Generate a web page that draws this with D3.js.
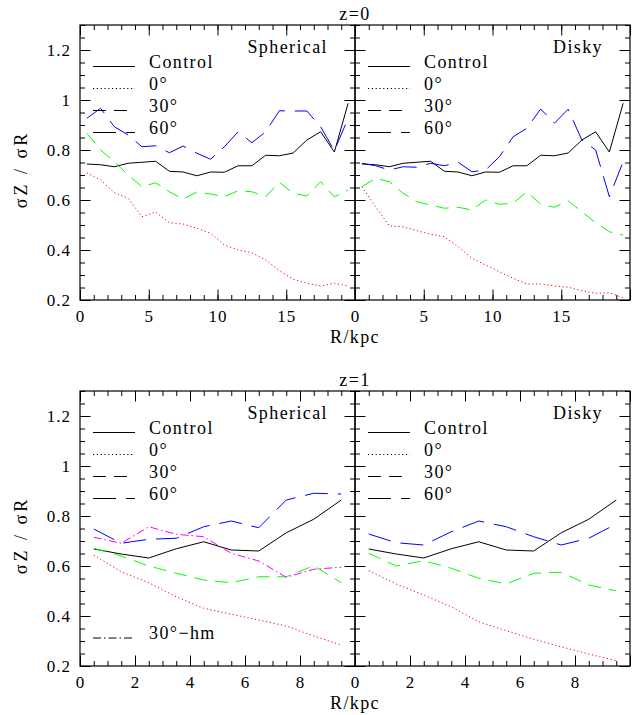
<!DOCTYPE html>
<html>
<head>
<meta charset="utf-8">
<script src="https://cdn.jsdelivr.net/npm/d3@7"></script>
<style>
  html, body { margin: 0; padding: 0; background: #fff; }
  svg { display: block; }
</style>
</head>
<body>
<svg id="chart" width="632" height="715"></svg>
<script>
// Radial bin centres (kpc)
const radiusZ0 = [0.5, 1.5, 2.5, 3.5, 4.5, 5.5, 6.5, 7.5, 8.5, 9.5,
                  10.5, 11.5, 12.5, 13.5, 14.5, 15.5, 16.5, 17.5, 18.5, 19.5];
const radiusZ1 = [0.5, 1.5, 2.5, 3.5, 4.5, 5.5, 6.5, 7.5, 8.5, 9.5];

// sigma_z / sigma_R at z = 0
const z0Control       = [0.744, 0.741, 0.733, 0.747, 0.751, 0.755, 0.715, 0.712, 0.697, 0.712,
                         0.711, 0.737, 0.737, 0.779, 0.777, 0.788, 0.840, 0.873, 0.792, 0.987];
const z0SphericalDeg0  = [0.709, 0.680, 0.629, 0.607, 0.533, 0.552, 0.509, 0.504, 0.487, 0.467,
                         0.420, 0.400, 0.389, 0.360, 0.317, 0.283, 0.267, 0.256, 0.267, 0.256];
const z0SphericalDeg30 = [0.867, 0.800, 0.753, 0.700, 0.653, 0.669, 0.633, 0.603, 0.632, 0.624,
                         0.613, 0.637, 0.633, 0.613, 0.671, 0.627, 0.616, 0.673, 0.613, 0.640];
const z0SphericalDeg60 = [0.927, 0.967, 0.893, 0.860, 0.813, 0.817, 0.789, 0.816, 0.787, 0.763,
                         0.813, 0.873, 0.829, 0.873, 0.957, 0.956, 0.956, 0.893, 0.797, 0.927];
const z0DiskyDeg0      = [0.653, 0.573, 0.496, 0.493, 0.477, 0.463, 0.453, 0.413, 0.367, 0.340,
                         0.313, 0.287, 0.264, 0.264, 0.256, 0.251, 0.237, 0.227, 0.229, 0.209];
const z0DiskyDeg30     = [0.653, 0.687, 0.673, 0.627, 0.593, 0.580, 0.567, 0.571, 0.560, 0.600,
                         0.583, 0.587, 0.633, 0.584, 0.571, 0.597, 0.553, 0.509, 0.473, 0.460];
const z0DiskyDeg60     = [0.747, 0.737, 0.720, 0.733, 0.731, 0.747, 0.737, 0.751, 0.713, 0.720,
                         0.773, 0.853, 0.887, 0.964, 0.907, 0.963, 0.840, 0.800, 0.613, 0.753];

// sigma_z / sigma_R at z = 1
const z1Control          = [0.668, 0.648, 0.632, 0.669, 0.697, 0.664, 0.660, 0.733, 0.787, 0.864];
const z1SphericalDeg0    = [0.644, 0.577, 0.533, 0.477, 0.431, 0.407, 0.384, 0.360, 0.320, 0.284];
const z1SphericalDeg30   = [0.671, 0.640, 0.600, 0.571, 0.544, 0.533, 0.557, 0.557, 0.601, 0.533];
const z1SphericalDeg60   = [0.748, 0.691, 0.707, 0.711, 0.757, 0.780, 0.753, 0.864, 0.891, 0.888];
const z1SphericalDeg30hm = [0.715, 0.691, 0.757, 0.727, 0.717, 0.651, 0.620, 0.555, 0.587, 0.595];
const z1DiskyDeg0        = [0.581, 0.528, 0.484, 0.437, 0.377, 0.341, 0.307, 0.277, 0.248, 0.221];
const z1DiskyDeg30       = [0.651, 0.600, 0.621, 0.591, 0.551, 0.528, 0.571, 0.575, 0.524, 0.501];
const z1DiskyDeg60       = [0.728, 0.693, 0.684, 0.737, 0.780, 0.757, 0.717, 0.684, 0.711, 0.768];

// Tick labels
const yTickLabels = [0.2, 0.4, 0.6, 0.8, 1, 1.2];
const xTickLabelsZ0 = [0, 5, 10, 15];
const xTickLabelsZ1 = [0, 2, 4, 6, 8];
const legendLabels = ["Control", "0°", "30°", "60°"];
const hmLabel = "30°−hm";

// Line styles per run
const styles = {
  control: { color: "#000000", dash: null },
  deg0:    { color: "#ff0000", dash: "1.2,2.6" },
  deg30:   { color: "#00ff00", dash: "13,8" },
  deg60:   { color: "#0000ff", dash: "23,10" },
  deg30hm: { color: "#ff00ff", dash: "8,3,1.5,3" }
};

const FONT = "'Liberation Serif', 'DejaVu Serif', 'Times New Roman', serif";

const svg = d3.select("#chart").style("font-family", FONT);

// Text helper: every label gets the same serif face
function label(parent, txt, size, spacing) {
  return parent.append("text")
    .style("font-family", FONT)
    .style("font-size", size + "px")
    .style("letter-spacing", spacing + "px")
    .attr("fill", "#000")
    .text(txt);
}

const panelW = 275, panelH = 275;
const rows = [
  { top: 25,  title: "z=0", xMax: 20, xMajor: d3.range(0, 20.01, 5), xMinor: d3.range(0, 20.01, 1),
    xLabels: xTickLabelsZ0, radius: radiusZ0 },
  { top: 391, title: "z=1", xMax: 10, xMajor: d3.range(0, 10.01, 2), xMinor: d3.range(0, 10.01, 0.5),
    xLabels: xTickLabelsZ1, radius: radiusZ1 }
];

const panels = [
  { row: 0, col: 0, name: "Spherical", series: [
      ["control", z0Control], ["deg0", z0SphericalDeg0], ["deg30", z0SphericalDeg30], ["deg60", z0SphericalDeg60]] },
  { row: 0, col: 1, name: "Disky", series: [
      ["control", z0Control], ["deg0", z0DiskyDeg0], ["deg30", z0DiskyDeg30], ["deg60", z0DiskyDeg60]] },
  { row: 1, col: 0, name: "Spherical", hm: true, series: [
      ["control", z1Control], ["deg0", z1SphericalDeg0], ["deg30", z1SphericalDeg30], ["deg60", z1SphericalDeg60],
      ["deg30hm", z1SphericalDeg30hm]] },
  { row: 1, col: 1, name: "Disky", series: [
      ["control", z1Control], ["deg0", z1DiskyDeg0], ["deg30", z1DiskyDeg30], ["deg60", z1DiskyDeg60]] }
];

const yMajor = d3.range(0.2, 1.301, 0.2);
const yMinor = d3.range(0.2, 1.301, 0.05);
const majorLen = 10.5, minorLen = 5;

function styleAxis(g) {
  g.attr("font-family", null).attr("font-size", null);
  g.select(".domain").remove();
  g.selectAll(".tick line").attr("stroke", "#000").attr("stroke-width", 1);
  g.selectAll(".tick text")
    .attr("fill", "#000")
    .style("font-family", FONT)
    .style("font-size", "17px")
    .style("letter-spacing", "1px");
}

panels.forEach(p => {
  const row = rows[p.row];
  const left = 80 + p.col * panelW;
  const top = row.top;
  const x = d3.scaleLinear().domain([0, row.xMax]).range([left, left + panelW]);
  const y = d3.scaleLinear().domain([0.2, 1.3]).range([top + panelH, top]);

  const g = svg.append("g");

  // Ticks on all four sides, pointing inward
  const addTicks = (axisFn, scale, values, len, tf, transform, pad) => {
    const a = axisFn(scale).tickValues(values).tickSize(-len).tickSizeOuter(0);
    if (tf) a.tickFormat(tf).tickPadding(pad); else a.tickFormat("");
    const ag = g.append("g").attr("transform", transform).call(a);
    styleAxis(ag);
    return ag;
  };
  const bottomY = top + panelH;
  addTicks(d3.axisBottom, x, row.xMinor, minorLen, null, `translate(0,${bottomY})`);
  addTicks(d3.axisTop, x, row.xMinor, minorLen, null, `translate(0,${top})`);
  addTicks(d3.axisTop, x, row.xMajor, majorLen, null, `translate(0,${top})`);
  addTicks(d3.axisBottom, x, row.xMajor, majorLen,
    d => row.xLabels.includes(d) ? String(d) : "", `translate(0,${bottomY})`, 10);

  addTicks(d3.axisLeft, y, yMinor, minorLen, null, `translate(${left},0)`);
  addTicks(d3.axisRight, y, yMinor, minorLen, null, `translate(${left + panelW},0)`);
  addTicks(d3.axisRight, y, yMajor, majorLen, null, `translate(${left + panelW},0)`);
  if (p.col === 0) {
    addTicks(d3.axisLeft, y, yMajor, majorLen,
      d => yTickLabels.includes(+d.toFixed(1)) ? String(+d.toFixed(1)) : "", `translate(${left},0)`, 9);
  } else {
    addTicks(d3.axisLeft, y, yMajor, majorLen, null, `translate(${left},0)`);
  }

  // Frame
  g.append("rect")
    .attr("x", left).attr("y", top).attr("width", panelW).attr("height", panelH)
    .attr("fill", "none").attr("stroke", "#000").attr("stroke-width", 1.2);

  // Data curves
  const line = d3.line().x((d, i) => x(row.radius[i])).y(d => y(d));
  p.series.forEach(([key, values]) => {
    const s = styles[key];
    g.append("path")
      .datum(values)
      .attr("d", line)
      .attr("fill", "none")
      .attr("stroke", s.color)
      .attr("stroke-width", 1)
      .attr("stroke-dasharray", s.dash);
  });

  // Panel name
  label(g, p.name, 18, 1.4)
    .attr("x", left + panelW - 27).attr("y", top + 28)
    .attr("text-anchor", "end");

  // Legend (black keys)
  const keys = ["control", "deg0", "deg30", "deg60"];
  const legendEntries = keys.map((k, i) => ({ key: k, label: legendLabels[i], dy: 41.5 + i * 22 }));
  if (p.hm) legendEntries.push({ key: "deg30hm", label: hmLabel, dy: 247 });
  legendEntries.forEach(e => {
    const ly = top + e.dy;
    g.append("line")
      .attr("x1", left + 13).attr("x2", left + 55)
      .attr("y1", ly).attr("y2", ly)
      .attr("stroke", "#000").attr("stroke-width", 1)
      .attr("stroke-dasharray", styles[e.key].dash);
    label(g, e.label, 18, 1.4)
      .attr("x", left + 69).attr("y", ly + 1);
  });
});

// Row titles, x-axis titles and y-axis titles
rows.forEach(row => {
  label(svg, row.title, 18, 1.4)
    .attr("x", 355).attr("y", row.top - 5)
    .attr("text-anchor", "middle");
  label(svg, "R/kpc", 18, 1.4)
    .attr("x", 355).attr("y", row.top + panelH + 43)
    .attr("text-anchor", "middle");
  label(svg, "σZ / σR", 18, 3)
    .attr("transform", `translate(27,${row.top + panelH / 2 + 7}) rotate(-90)`)
    .attr("text-anchor", "middle");
});
</script>
</body>
</html>
